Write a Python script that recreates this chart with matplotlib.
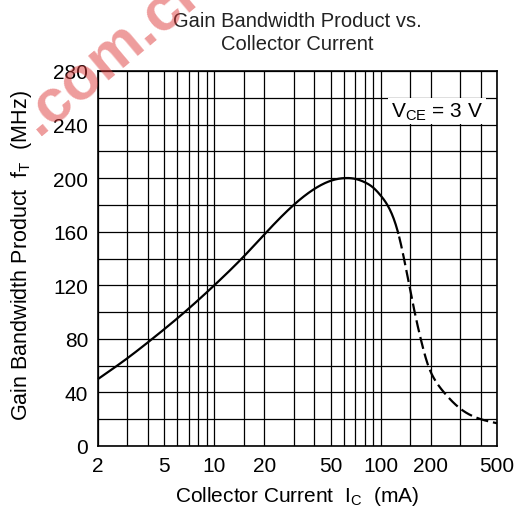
import numpy as np
import matplotlib
matplotlib.use("Agg")
import matplotlib.pyplot as plt
from matplotlib.ticker import FixedLocator, NullFormatter, NullLocator

plt.rcParams['font.family'] = ['Liberation Sans', 'DejaVu Sans']

# data (Ic in mA, fT in MHz)
ic_solid = [2, 3, 4, 5, 7, 10, 15, 20, 30, 40, 50, 60, 70, 80, 90, 100, 113, 128]
ft_solid = [50, 65.5, 77.5, 87.2, 102.5, 120, 141.4, 158, 180, 192, 198, 200, 199.5, 197, 193, 187, 177, 158]
ic_dash = [128, 138, 148, 160, 174, 193, 215, 248, 300, 400, 500]
ft_dash = [158, 140, 121, 100, 80, 60, 48, 38, 28, 20, 17]

x_ticks = [2, 5, 10, 20, 50, 100, 200, 500]
x_ticklabels = ['2', '5', '10', '20', '50', '100', '200', '500']
y_ticks = [0, 40, 80, 120, 160, 200, 240, 280]
grid_x = [2, 3, 4, 5, 6, 7, 8, 9, 10, 15, 20, 30, 40, 50, 60, 70, 80, 90, 100, 150, 200, 300, 400, 500]
grid_y = list(range(0, 281, 20))

fig = plt.figure(figsize=(5.18, 5.10), dpi=100)
ax = fig.add_axes([98/518, 1-447/510, (497-98)/518, (447-72)/510])

ax.set_xscale('log')
ax.set_xlim(2, 500)
ax.set_ylim(0, 280)


def natural_spline(xk, yk, t):
    xk = np.asarray(xk, float); yk = np.asarray(yk, float)
    n = len(xk)
    h = np.diff(xk)
    A = np.zeros((n, n)); b = np.zeros(n)
    A[0, 0] = A[-1, -1] = 1
    for i in range(1, n-1):
        A[i, i-1] = h[i-1]; A[i, i] = 2*(h[i-1]+h[i]); A[i, i+1] = h[i]
        b[i] = 6*((yk[i+1]-yk[i])/h[i] - (yk[i]-yk[i-1])/h[i-1])
    M = np.linalg.solve(A, b)
    k = np.clip(np.searchsorted(xk, t) - 1, 0, n-2)
    x0, x1 = xk[k], xk[k+1]; hh = x1 - x0
    return (M[k]*(x1-t)**3/(6*hh) + M[k+1]*(t-x0)**3/(6*hh)
            + (yk[k]/hh - M[k]*hh/6)*(x1-t) + (yk[k+1]/hh - M[k+1]*hh/6)*(t-x0))


all_ic = ic_solid + ic_dash[1:]
all_ft = ft_solid + ft_dash[1:]
lx = np.log10(all_ic)
t = np.linspace(lx[0], lx[-1], 600)
yy = natural_spline(lx, all_ft, t)
xx = 10**t
split = np.log10(ic_solid[-1])
ms = t <= split
md = t >= split

ax.plot(xx[ms], yy[ms], color='black', lw=1.6, zorder=3, clip_on=False, solid_capstyle='butt')
ax.plot(xx[md], yy[md], color='black', lw=1.6, zorder=3, dashes=(5.5, 2.2), clip_on=False)

for gx in grid_x:
    ax.axvline(gx, color='black', lw=0.9, zorder=1)
for gy in grid_y:
    ax.axhline(gy, color='black', lw=0.9, zorder=1)

ax.xaxis.set_major_locator(FixedLocator(x_ticks))
ax.xaxis.set_minor_locator(NullLocator())
ax.xaxis.set_minor_formatter(NullFormatter())
ax.set_xticklabels(x_ticklabels)
ax.set_yticks(y_ticks)
ax.tick_params(length=0, labelsize=15, colors='black')
ax.tick_params(axis='y', pad=7)
ax.tick_params(axis='x', pad=7)
for s in ax.spines.values():
    s.set_linewidth(1.2)

ax.set_xlabel('Collector Current  I$_\\mathregular{C}$  (mA)', fontsize=15, va='center')
ax.xaxis.set_label_coords(0.5, (447-497)/375)
ax.set_ylabel('Gain Bandwidth Product  f$_\\mathregular{T}$  (MHz)', fontsize=15.5, va='center')
ax.yaxis.set_label_coords((22-98)/399, 0.51)

ax.text(0.965, 0.893, 'V$_\\mathregular{CE}$ = 3 V', transform=ax.transAxes, ha='right', va='center',
        fontsize=15, zorder=5,
        bbox=dict(boxstyle='square,pad=0.12', fc='white', ec='none'))

fig.text(297/518, 1-33/510, 'Gain Bandwidth Product vs.\nCollector Current', ha='center', va='center',
         fontsize=14.5, color='#222222', linespacing=1.3)

# watermark
fig.text(39/518, 1-137/510, '.com.cn', rotation=40, rotation_mode='anchor', ha='left', va='baseline',
         fontsize=44, fontweight='bold', color='#dd3a3a', alpha=0.5, zorder=10)

fig.savefig('out.png', dpi=100)
